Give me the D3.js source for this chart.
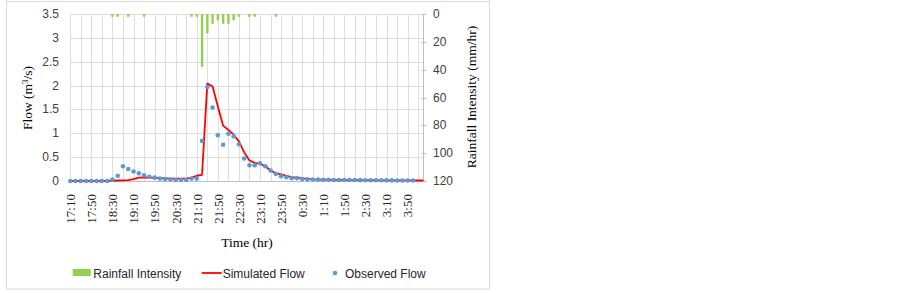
<!DOCTYPE html>
<html lang="en">
<head>
  <meta charset="UTF-8">
  <title>Rainfall Intensity, Simulated and Observed Flow</title>
  <script src="https://d3js.org/d3.v7.min.js"></script>
  <style>
    html, body { margin: 0; background: #fff; }
    .tick-sans { font-family: "Liberation Sans", Arial, sans-serif; font-size: 12px; fill: #404040; }
    .tick-serif { font-family: "Liberation Serif", "Times New Roman", serif; font-size: 13px; fill: #262626; }
    .title-serif { font-family: "Liberation Serif", "Times New Roman", serif; font-size: 13.5px; fill: #000; }
    .legend-text { font-family: "Liberation Sans", Arial, sans-serif; font-size: 12px; fill: #262626; }
    .grid { stroke: #dedede; stroke-width: 1; }
  </style>
</head>
<body>
  <svg width="903" height="293"></svg>
  <script>
    // categories (10 min steps)
    const times = ["17:10","17:20","17:30","17:40","17:50","18:00","18:10","18:20","18:30","18:40","18:50",
      "19:00","19:10","19:20","19:30","19:40","19:50","20:00","20:10","20:20","20:30","20:40","20:50",
      "21:00","21:10","21:20","21:30","21:40","21:50","22:00","22:10","22:20","22:30","22:40","22:50",
      "23:00","23:10","23:20","23:30","23:40","23:50","0:00","0:10","0:20","0:30","0:40","0:50",
      "1:00","1:10","1:20","1:30","1:40","1:50","2:00","2:10","2:20","2:30","2:40","2:50",
      "3:00","3:10","3:20","3:30","3:40","3:50","4:00","4:10","4:20"];

    // rainfall intensity (mm/hr)
    const rainfall = [0,0,0,0,0,0,0,0,2,2,0,2,0,0,2,0,0,0,0,0,0,0,0,
      2,2,38,14,7,4.5,7,7,4.5,2,0,2,2,0,0,0,2,0,0,0,0,0,0,0,
      0,0,0,0,0,0,0,0,0,0,0,0,0,0,0,0,0,0,0,0,0];

    // simulated flow (m3/s)
    const simulated = [0,0,0,0,0,0,0,0,0.005,0.01,0.015,0.02,0.04,0.07,0.075,0.07,0.065,0.06,0.055,0.05,0.05,0.05,0.05,
      0.07,0.11,0.13,2.04,1.98,1.56,1.16,1.07,0.97,0.83,0.6,0.43,0.38,0.36,0.31,0.22,0.16,0.14,0.11,0.08,0.065,0.055,0.045,0.035,
      0.03,0.028,0.025,0.023,0.022,0.02,0.02,0.02,0.019,0.018,0.017,0.016,0.015,0.015,0.014,0.013,0.012,0.012,0.011,0.01,0.01];

    // observed flow (m3/s)
    const observed = [0,0,0,0,0,0,0,0,0.03,0.11,0.31,0.25,0.2,0.16,0.12,0.09,0.07,0.05,0.04,0.03,0.02,0.02,0.02,
      0.05,0.05,0.84,1.97,1.54,0.96,0.76,0.99,0.94,0.77,0.47,0.33,0.33,0.37,0.31,0.22,0.15,0.1,0.08,0.06,0.06,0.04,0.035,0.03,
      0.03,0.025,0.025,0.02,0.02,0.02,0.02,0.02,0.018,0.017,0.016,0.015,0.015,0.014,0.013,0.012,0.012,0.011,0.01];

    const flowTicks = [0, 0.5, 1, 1.5, 2, 2.5, 3, 3.5];
    const rainTicks = [0, 20, 40, 60, 80, 100, 120];

    const svg = d3.select("svg");

    // outer frame
    svg.append("rect")
       .attr("x", 6.5).attr("y", 1.5)
       .attr("width", 483).attr("height", 287.5)
       .attr("fill", "#fff").attr("stroke", "#d9d9d9");

    const plotLeft = 70.3, plotRight = 423.4, plotTop = 14, plotBottom = 181;

    const x = d3.scalePoint().domain(times).range([plotLeft, plotRight]);
    const yFlow = d3.scaleLinear().domain([0, 3.5]).range([plotBottom, plotTop]);
    const yRain = d3.scaleLinear().domain([0, 120]).range([plotTop, plotBottom]);

    // vertical grid (every 2nd category) and horizontal grid
    svg.append("g").selectAll("line")
       .data(times.filter((d, i) => i % 2 === 0).concat([times[times.length - 1]]))
       .enter().append("line")
       .attr("class", "grid")
       .attr("x1", d => Math.round(x(d)) + 0.5).attr("x2", d => Math.round(x(d)) + 0.5)
       .attr("y1", plotTop).attr("y2", plotBottom);

    svg.append("g").selectAll("line")
       .data(flowTicks)
       .enter().append("line")
       .attr("class", "grid")
       .attr("x1", plotLeft).attr("x2", plotRight)
       .attr("y1", d => Math.round(yFlow(d)) + 0.5).attr("y2", d => Math.round(yFlow(d)) + 0.5);

    // bottom axis line
    svg.append("line")
       .attr("x1", plotLeft).attr("x2", plotRight)
       .attr("y1", Math.round(plotBottom) + 0.5).attr("y2", Math.round(plotBottom) + 0.5)
       .attr("stroke", "#bfbfbf");

    // right axis line
    svg.append("line")
       .attr("x1", Math.round(plotRight) + 0.5).attr("x2", Math.round(plotRight) + 0.5)
       .attr("y1", plotTop).attr("y2", plotBottom)
       .attr("stroke", "#bfbfbf");
    svg.append("g").selectAll("line")
       .data(rainTicks)
       .enter().append("line")
       .attr("x1", plotRight - 2).attr("x2", plotRight + 3)
       .attr("y1", d => Math.round(yRain(d)) + 0.5).attr("y2", d => Math.round(yRain(d)) + 0.5)
       .attr("stroke", "#bfbfbf");

    // rainfall bars hanging from the top
    const barW = 2.4;
    svg.append("g").selectAll("rect")
       .data(times.map((t, i) => ({ t: t, v: rainfall[i] })).filter(d => d.v > 0))
       .enter().append("rect")
       .attr("x", d => x(d.t) - barW / 2)
       .attr("y", yRain(0))
       .attr("width", barW)
       .attr("height", d => yRain(d.v) - yRain(0))
       .attr("fill", "#92d050");

    // simulated line
    const line = d3.line()
       .x((d, i) => x(times[i]))
       .y(d => yFlow(d));
    svg.append("path")
       .datum(simulated)
       .attr("d", line)
       .attr("fill", "none")
       .attr("stroke", "#ff0000")
       .attr("stroke-width", 1.8)
       .attr("stroke-linejoin", "round");

    // observed points
    svg.append("g").selectAll("circle")
       .data(observed)
       .enter().append("circle")
       .attr("cx", (d, i) => x(times[i]))
       .attr("cy", d => yFlow(d))
       .attr("r", 2.3)
       .attr("fill", "#5b9bd5");

    // left axis labels
    svg.append("g").selectAll("text")
       .data(flowTicks)
       .enter().append("text")
       .attr("class", "tick-sans")
       .attr("x", 59)
       .attr("y", d => yFlow(d) + 4)
       .attr("text-anchor", "end")
       .text(d => d);

    // right axis labels
    svg.append("g").selectAll("text")
       .data(rainTicks)
       .enter().append("text")
       .attr("class", "tick-sans")
       .attr("x", 433)
       .attr("y", d => yRain(d) + 4)
       .text(d => d);

    // x labels every 4th category
    svg.append("g").selectAll("text")
       .data(times.filter((d, i) => i % 4 === 0))
       .enter().append("text")
       .attr("class", "tick-serif")
       .attr("transform", d => `translate(${x(d) + 4.8}, 194) rotate(-90)`)
       .attr("text-anchor", "end")
       .text(d => d);

    // axis titles
    const yTitle = svg.append("text")
       .attr("class", "title-serif")
       .attr("transform", "translate(31.5, 98) rotate(-90)")
       .attr("text-anchor", "middle");
    yTitle.append("tspan").text("Flow (m");
    yTitle.append("tspan").attr("dy", -4).style("font-size", "9px").text("3");
    yTitle.append("tspan").attr("dy", 4).text("/s)");

    svg.append("text")
       .attr("class", "title-serif")
       .attr("transform", "translate(476, 97) rotate(-90)")
       .attr("text-anchor", "middle")
       .text("Rainfall Intensity (mm/hr)");

    svg.append("text")
       .attr("class", "title-serif")
       .attr("x", 247).attr("y", 247)
       .attr("text-anchor", "middle")
       .text("Time (hr)");

    // legend
    const ly = 273;
    svg.append("rect")
       .attr("x", 72.7).attr("y", ly - 4).attr("width", 18).attr("height", 7)
       .attr("fill", "#92d050");
    svg.append("text").attr("class", "legend-text")
       .attr("x", 93.3).attr("y", ly + 4.5).text("Rainfall Intensity");

    svg.append("line")
       .attr("x1", 201.7).attr("x2", 221.7).attr("y1", ly).attr("y2", ly)
       .attr("stroke", "#ff0000").attr("stroke-width", 1.8);
    svg.append("text").attr("class", "legend-text")
       .attr("x", 222.7).attr("y", ly + 4.5).text("Simulated Flow");

    svg.append("circle")
       .attr("cx", 335).attr("cy", ly).attr("r", 2.3)
       .attr("fill", "#5b9bd5");
    svg.append("text").attr("class", "legend-text")
       .attr("x", 345).attr("y", ly + 4.5).text("Observed Flow");
  </script>
</body>
</html>
